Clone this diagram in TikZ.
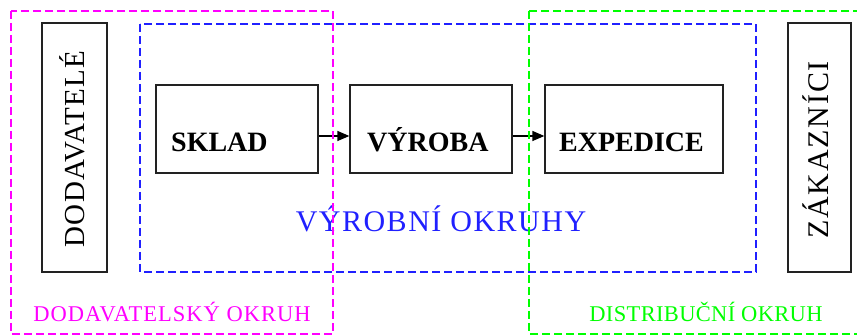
\documentclass[tikz,border=0pt]{standalone}
\usepackage{fontspec}
\setmainfont{Liberation Serif}
\usetikzlibrary{arrows.meta}
\definecolor{mag}{HTML}{FF00FF}
\definecolor{blu}{HTML}{2020FF}
\definecolor{grn}{HTML}{00FF00}
\definecolor{boxline}{HTML}{222222}
\tikzset{
  frame/.style={draw, dash pattern=on 8pt off 4pt, line width=1.5pt},
  blk/.style={draw=boxline, line width=1.3pt, rectangle, inner sep=0pt},
  blktext/.style={font=\fontsize{28}{30}\selectfont\bfseries, anchor=base west, inner sep=0pt},
  sidetext/.style={anchor=base, rotate=90, inner sep=0pt},
  ringtext/.style={anchor=base, inner sep=0pt},
  flow/.style={draw=black, line width=1.3pt, -{Triangle[length=12pt,width=10pt]}}
}
\begin{document}
\begin{tikzpicture}[x=1pt,y=-1pt]
\useasboundingbox (0,0) rectangle (857,336);
\clip (0,0) rectangle (857,336);
% side boxes
\node[blk, minimum width=65pt, minimum height=249pt] (dod) at (74.5,147.5) {};
\node[blk, minimum width=63pt, minimum height=249pt] (zak) at (819.5,147.5) {};
\node[sidetext, font=\fontsize{29}{31}\selectfont\addfontfeatures{LetterSpace=4}] (dodt) at (84,149) {DODAVATELÉ};
\node[sidetext, font=\fontsize{30}{32}\selectfont\addfontfeatures{LetterSpace=6}] (zakt) at (828,150) {ZÁKAZNÍCI};
% process boxes
\node[blk, minimum width=162pt, minimum height=88pt] (sklad) at (237,129) {};
\node[blk, minimum width=162pt, minimum height=88pt] (vyroba) at (431,129) {};
\node[blk, minimum width=178pt, minimum height=88pt] (exped) at (634,129) {};
\node[blktext] (skladt) at (171,152) {SKLAD};
\node[blktext] (vyrobat) at (367,152) {VÝROBA};
\node[blktext] (expedt) at (559,152) {EXPEDICE};
% arrows
\coordinate (a1) at (sklad.east |- 0,136);
\coordinate (a2) at (vyroba.west |- 0,136);
\coordinate (a3) at (vyroba.east |- 0,136);
\coordinate (a4) at (exped.west |- 0,136);
\draw[flow] (a1) -- (a2);
\draw[flow] (a3) -- (a4);
% texts
\node[ringtext, text=blu, font=\fontsize{30}{32}\selectfont\addfontfeatures{LetterSpace=5}] (vo) at (441,232) {VÝROBNÍ OKRUHY};
\node[ringtext, text=mag, font=\fontsize{22.5}{24}\selectfont\addfontfeatures{LetterSpace=4.5}] (dok) at (172,322) {DODAVATELSKÝ OKRUH};
\node[ringtext, text=grn, font=\fontsize{22.5}{24}\selectfont\addfontfeatures{LetterSpace=1.5}] (disk) at (706,322) {DISTRIBUČNÍ OKRUH};
% dashed frames
\draw[frame, blu] (140,24) rectangle (756,272);
\draw[frame, mag] (11,11) rectangle (333,334);
\draw[frame, grn] (529,11) rectangle (870,334);
\end{tikzpicture}
\end{document}
